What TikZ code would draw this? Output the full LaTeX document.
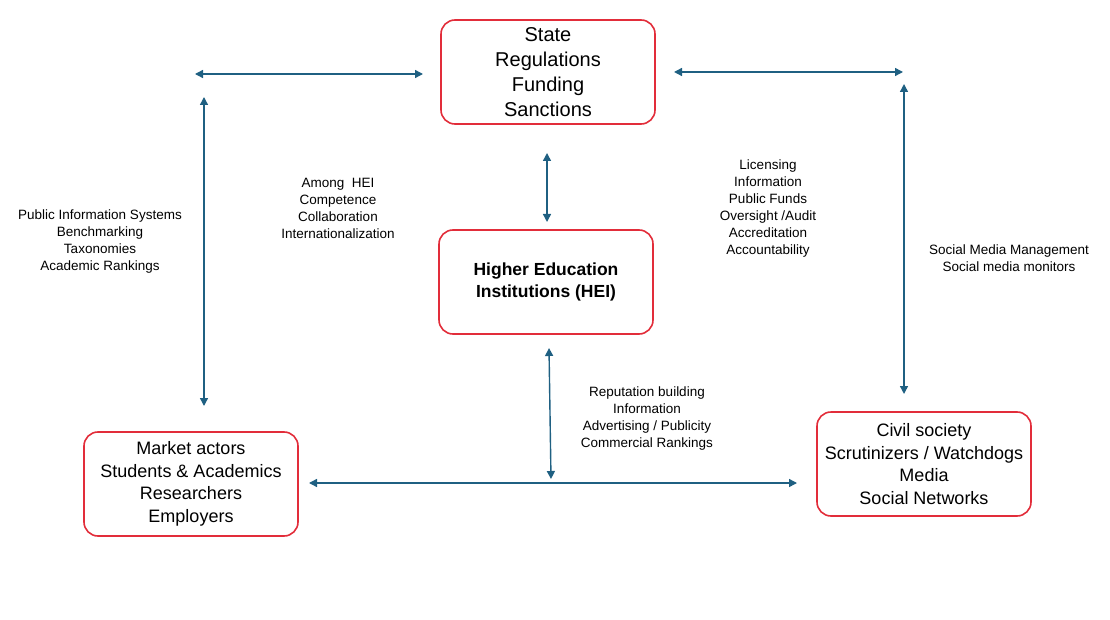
\documentclass[tikz,border=0pt]{standalone}
\usepackage{fontspec}
\setmainfont{Liberation Sans}
\usepackage{tikz}
\usetikzlibrary{arrows.meta,positioning}
\definecolor{boxred}{RGB}{226,45,58}
\definecolor{arrblue}{RGB}{31,96,130}

\begin{document}
\begin{tikzpicture}[x=1pt, y=-1pt,
    box/.style={draw=boxred, line width=1.6pt, rounded corners=14pt,
      minimum width=214pt, minimum height=104pt, align=center, inner sep=0pt,
      font=\fontsize{18}{22.5}\selectfont},
    arr/.style={{Triangle[length=8pt,width=8pt]}-{Triangle[length=8pt,width=8pt]},
      line width=1.4pt, arrblue},
    lbl/.style={align=center, inner sep=0pt, font=\fontsize{13.5}{17}\selectfont},
  ]
    \path[use as bounding box] (0,0) rectangle (1110,620);

    % Actors
    \node[box, font=\fontsize{20}{25}\selectfont] (state) at (548,72)
      {State\\Regulations\\Funding\\Sanctions};
    \node[box, font=\fontsize{17.5}{22}\selectfont\bfseries] (hei) at (546,282)
      {Higher Education\\Institutions (HEI)};
    \node[box] (market) at (191,484)
      {Market actors\\Students \& Academics\\Researchers\\Employers};
    \node[box] (civil) at (924,464)
      {Civil society\\Scrutinizers / Watchdogs\\Media\\Social Networks};

    % Arrow ends
    \coordinate (stateW) at (423,74);
    \coordinate (marketNW) at (195,74);
    \coordinate (leftTop) at (204,97);
    \coordinate (leftBot) at (204,406);
    \coordinate (stateE) at (674,72);
    \coordinate (civilNE) at (903,72);
    \coordinate (rightTop) at (904,84);
    \coordinate (rightBot) at (904,394);
    \coordinate (stateS) at (547,153);
    \coordinate (heiN) at (547,222);
    \coordinate (heiS) at (549,348);
    \coordinate (baseMid) at (551,479);
    \coordinate (marketE) at (309,483);
    \coordinate (civilW) at (797,483);

    \draw[arr] (marketNW) -- (stateW);
    \draw[arr] (leftTop) -- (leftBot);
    \draw[arr] (stateE) -- (civilNE);
    \draw[arr] (rightTop) -- (rightBot);
    \draw[arr] (stateS) -- (heiN);
    \draw[arr] (heiS) -- (baseMid);
    \draw[arr] (marketE) -- (civilW);

    % Labels
    \node[lbl] (infoSys) at (100,242)
      {Public Information Systems\\Benchmarking\\Taxonomies\\Academic Rankings};
    \node[lbl] (amongHei) at (338,208)
      {Among\ \ HEI\\Competence\\Collaboration\\Internationalization};
    \node[lbl] (stateTools) at (768,209)
      {Licensing\\Information\\Public Funds\\Oversight /Audit\\Accreditation\\Accountability};
    \node[lbl] (socialMedia) at (1009,258)
      {Social Media Management\\Social media monitors};
    \node[lbl] (reputation) at (647,419)
      {Reputation building\\Information\\Advertising / Publicity\\Commercial Rankings};
  \end{tikzpicture}
\end{document}
